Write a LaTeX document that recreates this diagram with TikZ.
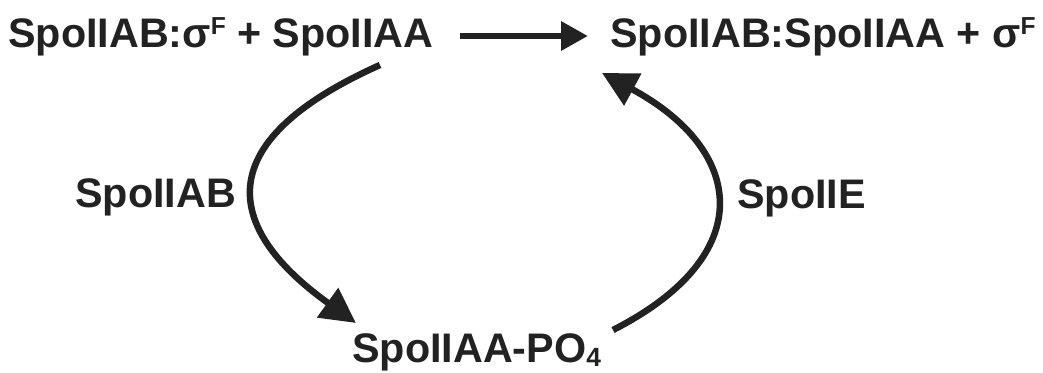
\documentclass[tikz,border=0pt]{standalone}
\usepackage{fontspec}
\setmainfont{Liberation Sans}
\usepackage{tikz}
\usetikzlibrary{arrows.meta}
\definecolor{ink}{RGB}{34,34,34}
\newcommand{\upF}{\raisebox{0.3em}{\fontsize{14}{14}\selectfont F}}
\newcommand{\lowfour}{\raisebox{-0.12em}{\fontsize{15}{15}\selectfont 4}}

\begin{document}
\begin{tikzpicture}[x=0.02cm,y=-0.02cm,>={Triangle[length=0.7cm,width=0.7cm]}]

		\tikzstyle{species}=[inner sep=0pt,anchor=base west,text=ink,font=\fontsize{23.5}{28}\selectfont\bfseries]
		\tikzstyle{enzyme}=[species]
		\tikzstyle{flow}=[draw=ink,line width=3.7pt]
		\useasboundingbox (0,0) rectangle (1043,372);

		\node [species] (r1) at (8,47) {SpoIIAB:σ\upF{} + SpoIIAA};
		\node [species] (p1) at (610,47) {SpoIIAB:SpoIIAA + σ\upF};
		\node [species] (pa) at (352,362) {SpoIIAA-PO\lowfour};
		\node [enzyme] (kin) at (75,207) {SpoIIAB};
		\node [enzyme] (pho) at (737,208) {SpoIIE};

		\coordinate (a1) at (460,36);
		\coordinate (a2) at (588,36);
		\coordinate (k1) at (380,65);
		\coordinate (k2) at (356,323);
		\coordinate (e1) at (613,330);
		\coordinate (e2) at (602,73);

		\draw [flow,-{Triangle[length=0.54cm,width=0.56cm]}] (a1) -- (a2);
		\draw [flow,->] (k1) .. controls (190,150) and (240,240) .. (k2);
		\draw [flow,->] (e1) .. controls (760,255) and (745,150) .. (e2);
\end{tikzpicture}
\end{document}
